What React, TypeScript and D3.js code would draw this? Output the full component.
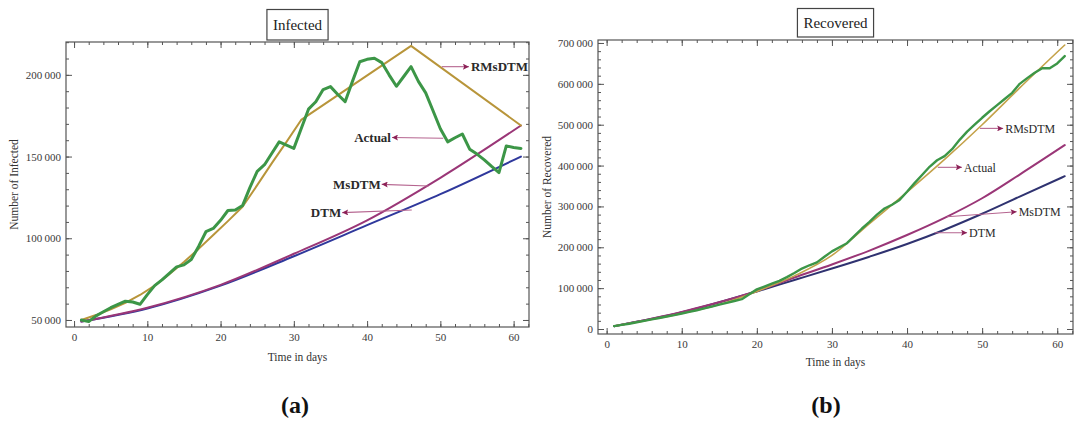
import React, { useRef, useEffect } from 'react'
import * as d3 from 'd3'

// day index shared by both panels
const days = d3.range(1, 62)

// (a) Infected
const infectedActual = [
  50000, 49000, 52500, 55000, 57500, 59500, 61500, 61000, 59600, 65500,
  71000, 74500, 78500, 82500, 83700, 87000, 95000, 104000, 106000, 111000,
  117000, 117300, 120000, 131000, 141000, 145000, 152000, 159000, 157000, 155000,
  167000, 179000, 183500, 191000, 192800, 188000, 183600, 196000, 208000, 209500,
  210200, 207500, 200000, 193000, 199000, 205000, 196000, 189000, 178000, 167000,
  159000, 161500, 163800, 154500, 151500, 148000, 144000, 140200, 156500, 155500,
  155000,
]
const infRmsDays = [1, 3, 5, 7, 9, 11, 13, 15, 17, 19, 21, 23, 25, 27, 29, 31, 46, 61]
const infRmsVals = [
  50000, 53000, 56500, 60500, 65300, 71000, 78000, 85500, 93500, 102000,
  110500, 119300, 132500, 146000, 159000, 172400, 217700, 169000,
]
const infModelDays = [1, 10, 20, 30, 40, 50, 61]
const infMsVals = [49000, 57500, 71500, 90500, 111000, 137000, 169000]
const infDtmVals = [49000, 57000, 71000, 89000, 108000, 127000, 150000]

// (b) Recovered
const recoveredActual = [
  7000, 10000, 13000, 16500, 20000, 23500, 27000, 30500, 34000, 38000,
  42000, 46000, 50500, 55000, 59500, 64000, 68500, 73000, 85000, 97000,
  104000, 111000, 118000, 127000, 137000, 148000, 156000, 163000, 177000, 190000,
  200000, 210000, 228000, 246000, 262000, 280000, 295000, 304000, 316000, 336000,
  357000, 377000, 397000, 413000, 423000, 440000, 463000, 483000, 500000, 517000,
  533000, 548000, 563000, 578000, 600000, 614000, 627000, 638000, 638000, 650000,
  668000,
]
const recRmsDays = [1, 5, 10, 15, 20, 25, 30, 35, 40, 45, 50, 55, 61]
const recRmsVals = [7000, 20000, 38000, 60000, 92000, 130000, 180000, 258000, 335000, 415000, 500000, 590000, 695000]
const recModelDays = [1, 10, 20, 25, 30, 35, 40, 45, 50, 55, 61]
const recMsVals = [7000, 42000, 93000, 126000, 158000, 192000, 230000, 272000, 320000, 378000, 450000]
const recDtmVals = [7000, 41000, 92000, 120000, 148000, 177000, 208000, 243000, 282000, 324000, 374000]

// arrow annotations: [label, fromDay, fromValue, toDay, toValue]
const infNotes: [string, number, number, number, number][] = [
  ['RMsDTM', 50.2, 205000, 53.9, 205000],
  ['Actual', 50.4, 161200, 43.4, 161700],
  ['MsDTM', 48.4, 132000, 42.0, 133000],
  ['DTM', 46.1, 117300, 36.6, 115700],
]
const recNotes: [string, number, number, number, number][] = [
  ['RMsDTM', 49.7, 491000, 52.8, 491000],
  ['Actual', 44.1, 395700, 47.3, 395700],
  ['MsDTM', 45.3, 274800, 54.6, 287100],
  ['DTM', 43.7, 235700, 48.0, 235700],
]

const xMajor = [0, 10, 20, 30, 40, 50, 60]
const xMinor = d3.range(0, 63, 2)

const fmt = d3.formatLocale({ decimal: '.', thousands: '\u2009', grouping: [3], currency: ['', ''] }).format(',')

const serif = "'Liberation Serif', 'DejaVu Serif', serif"
const gold = '#b8953a'
const green = '#3c9647'
const purple = '#9a3677'
const arrowCol = '#8c2157'

type Series = { xs: number[]; ys: number[]; color: string; width: number; curve: d3.CurveFactory }

type Panel = {
  frame: { l: number; r: number; t: number; b: number }
  xDomain: [number, number]
  yDomain: [number, number]
  yMajor: number[]
  yMinor: number[]
  title: string
  titleBox: [number, number]
  yLabel: string
  yLabelX: number
  xLabelY: number
  letter: string
  letterX: number
  series: Series[]
  notes: [string, number, number, number, number][]
  noteSize: number
  noteWeight: string
}

function drawPanel(svg: d3.Selection<SVGSVGElement, unknown, null, undefined>, p: Panel) {
  const { l, r, t, b } = p.frame
  const x = d3.scaleLinear().domain(p.xDomain).range([l, r])
  const y = d3.scaleLinear().domain(p.yDomain).range([b, t])
  const g = svg.append('g')

  const clipId = 'clip' + p.letter.replace(/\W/g, '')
  g.append('clipPath').attr('id', clipId)
    .append('rect').attr('x', l).attr('y', t).attr('width', r - l).attr('height', b - t)

  // ticks on all four sides, pointing inward
  const styleAxis = (sel: d3.Selection<SVGGElement, unknown, null, undefined>) => {
    sel.select('.domain').remove()
    sel.selectAll('line').attr('stroke', '#555')
    sel.selectAll('text').attr('font-family', serif).attr('font-size', 11).attr('fill', '#3a3a3a')
  }
  const none = () => ''
  g.append('g').attr('transform', `translate(${l},0)`)
    .call(d3.axisLeft(y).tickValues(p.yMinor).tickSizeInner(-3).tickSizeOuter(0).tickFormat(none)).call(styleAxis)
  g.append('g').attr('transform', `translate(${l},0)`)
    .call(d3.axisLeft(y).tickValues(p.yMajor).tickSizeInner(-6).tickSizeOuter(0).tickPadding(5).tickFormat(d => fmt(+d))).call(styleAxis)
  g.append('g').attr('transform', `translate(${r},0)`)
    .call(d3.axisRight(y).tickValues(p.yMinor).tickSizeInner(-3).tickSizeOuter(0).tickFormat(none)).call(styleAxis)
  g.append('g').attr('transform', `translate(${r},0)`)
    .call(d3.axisRight(y).tickValues(p.yMajor).tickSizeInner(-6).tickSizeOuter(0).tickFormat(none)).call(styleAxis)
  g.append('g').attr('transform', `translate(0,${b})`)
    .call(d3.axisBottom(x).tickValues(xMinor).tickSizeInner(-3).tickSizeOuter(0).tickFormat(none)).call(styleAxis)
  g.append('g').attr('transform', `translate(0,${b})`)
    .call(d3.axisBottom(x).tickValues(xMajor).tickSizeInner(-6).tickSizeOuter(0).tickPadding(6).tickFormat(d => String(d))).call(styleAxis)
  g.append('g').attr('transform', `translate(0,${t})`)
    .call(d3.axisTop(x).tickValues(xMinor).tickSizeInner(-3).tickSizeOuter(0).tickFormat(none)).call(styleAxis)
  g.append('g').attr('transform', `translate(0,${t})`)
    .call(d3.axisTop(x).tickValues(xMajor).tickSizeInner(-6).tickSizeOuter(0).tickFormat(none)).call(styleAxis)

  g.append('rect').attr('x', l).attr('y', t).attr('width', r - l).attr('height', b - t)
    .attr('fill', 'none').attr('stroke', '#555').attr('stroke-width', 1.2)

  // curves
  const lines = g.append('g').attr('clip-path', `url(#${clipId})`)
  p.series.forEach(s => {
    const line = d3.line<number>().x((_, i) => x(s.xs[i])).y(d => y(d)).curve(s.curve)
    lines.append('path').attr('d', line(s.ys))
      .attr('fill', 'none').attr('stroke', s.color).attr('stroke-width', s.width)
      .attr('stroke-linejoin', 'round').attr('stroke-linecap', 'round')
  })

  // arrows from curve to label
  p.notes.forEach(([label, d0, v0, d1, v1]) => {
    const x0 = x(d0), y0 = y(v0), x1 = x(d1), y1 = y(v1)
    g.append('line').attr('x1', x0).attr('y1', y0).attr('x2', x1).attr('y2', y1)
      .attr('stroke', '#b5648f').attr('stroke-width', 1.1).attr('marker-end', 'url(#arrowHead)')
    const leftward = x1 < x0
    g.append('text').attr('x', leftward ? x1 - 1 : x1 + 2).attr('y', y1).attr('dy', '0.35em')
      .attr('text-anchor', leftward ? 'end' : 'start')
      .attr('font-family', serif).attr('font-size', p.noteSize).attr('font-weight', p.noteWeight)
      .attr('fill', '#2a2a2a').text(label)
  })

  // title in a box
  const cx = (l + r) / 2
  const [bt, bb] = p.titleBox
  const box = g.append('rect').attr('y', bt).attr('height', bb - bt)
    .attr('fill', '#fff').attr('stroke', '#444').attr('stroke-width', 1.2)
  const title = g.append('text').attr('x', cx).attr('y', (bt + bb) / 2).attr('dy', '0.35em')
    .attr('text-anchor', 'middle').attr('font-family', serif).attr('font-size', 15)
    .attr('fill', '#222').text(p.title)
  const tw = (title.node() as SVGTextElement).getComputedTextLength()
  box.attr('x', cx - tw / 2 - 6).attr('width', tw + 12)

  // axis labels
  g.append('text').attr('x', cx).attr('y', p.xLabelY).attr('text-anchor', 'middle')
    .attr('font-family', serif).attr('font-size', 11.5).attr('fill', '#333').text('Time in days')
  g.append('text').attr('transform', `translate(${p.yLabelX},${(t + b) / 2}) rotate(-90)`)
    .attr('dy', '0.35em').attr('text-anchor', 'middle')
    .attr('font-family', serif).attr('font-size', 11.5).attr('fill', '#333').text(p.yLabel)

  // panel letter
  svg.append('text').attr('x', p.letterX).attr('y', 413).attr('text-anchor', 'middle')
    .attr('font-family', serif).attr('font-size', 24).attr('font-weight', 'bold').attr('fill', '#111').text(p.letter)
}

export default function App() {
  const ref = useRef<SVGSVGElement>(null)

  useEffect(() => {
    const svg = d3.select(ref.current!)
    svg.selectAll('*').remove()
    svg.append('rect').attr('width', 1077).attr('height', 422).attr('fill', '#fff')
    svg.append('defs').append('marker').attr('id', 'arrowHead')
      .attr('viewBox', '0 0 10 10').attr('refX', 10).attr('refY', 5)
      .attr('markerWidth', 11).attr('markerHeight', 6).attr('markerUnits', 'userSpaceOnUse')
      .attr('orient', 'auto')
      .append('path').attr('d', 'M0,0 L10,5 L0,10 L2,5 z').attr('fill', arrowCol)

    drawPanel(svg, {
      frame: { l: 66, r: 529, t: 42, b: 327 },
      xDomain: [-1.1, 62.1],
      yDomain: [45700, 220100],
      yMajor: [50000, 100000, 150000, 200000],
      yMinor: d3.range(50000, 220001, 10000),
      title: 'Infected',
      titleBox: [9.5, 40],
      yLabel: 'Number of Infected',
      yLabelX: 14,
      xLabelY: 361,
      letter: '(a)',
      letterX: 295,
      series: [
        { xs: infModelDays, ys: infDtmVals, color: '#2f389c', width: 2, curve: d3.curveMonotoneX },
        { xs: infModelDays, ys: infMsVals, color: purple, width: 2, curve: d3.curveMonotoneX },
        { xs: infRmsDays, ys: infRmsVals, color: gold, width: 2, curve: d3.curveLinear },
        { xs: days, ys: infectedActual, color: green, width: 3, curve: d3.curveLinear },
      ],
      notes: infNotes,
      noteSize: 13,
      noteWeight: 'bold',
    })

    drawPanel(svg, {
      frame: { l: 598, r: 1073, t: 40, b: 334 },
      xDomain: [-1.15, 62.1],
      yDomain: [-12200, 707300],
      yMajor: d3.range(0, 700001, 100000),
      yMinor: d3.range(0, 700001, 20000),
      title: 'Recovered',
      titleBox: [8.5, 37],
      yLabel: 'Number of Recovered',
      yLabelX: 547,
      xLabelY: 366,
      letter: '(b)',
      letterX: 826,
      series: [
        { xs: recModelDays, ys: recDtmVals, color: '#2f3270', width: 2, curve: d3.curveMonotoneX },
        { xs: recModelDays, ys: recMsVals, color: purple, width: 2, curve: d3.curveMonotoneX },
        { xs: recRmsDays, ys: recRmsVals, color: '#c4a24a', width: 1.6, curve: d3.curveMonotoneX },
        { xs: days, ys: recoveredActual, color: green, width: 2.4, curve: d3.curveLinear },
      ],
      notes: recNotes,
      noteSize: 12,
      noteWeight: 'normal',
    })
  }, [])

  return (
    <div>
      <svg ref={ref} width={1077} height={422} style={{ position: 'absolute', left: 0, top: 0 }} />
    </div>
  )
}
